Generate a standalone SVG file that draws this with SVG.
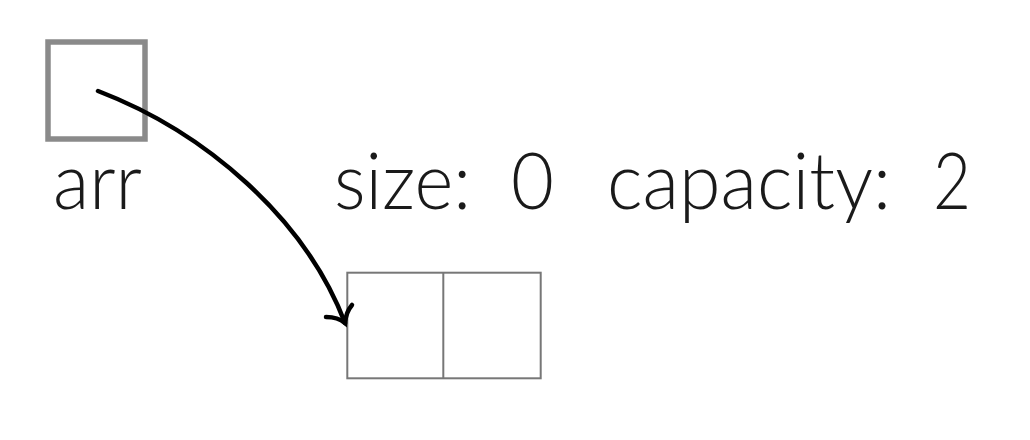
<svg xmlns="http://www.w3.org/2000/svg" width="1030" height="440" viewBox="0 0 1030 440">
<style>
.lbl{font-family:"Lato","DejaVu Sans",sans-serif;font-size:78px;font-weight:300;fill:#1a1a1a}
.ptr{fill:none;stroke:#8a8a8a;stroke-width:5.5}
.cell{fill:none;stroke:#777;stroke-width:2}
.conn{fill:none;stroke:#000;stroke-width:4.5;stroke-linecap:round}
</style>
<rect width="1030" height="440" fill="#fff"/>
<g id="arr">
<rect class="ptr" x="48" y="42" width="97" height="97"/>
<text class="lbl" x="53" y="209" textLength="89" lengthAdjust="spacingAndGlyphs">arr</text>
</g>
<g id="size">
<text class="lbl" x="334" y="209" textLength="137" lengthAdjust="spacingAndGlyphs">size:</text>
<text class="lbl" x="511" y="209" textLength="43" lengthAdjust="spacingAndGlyphs">0</text>
</g>
<g id="capacity">
<text class="lbl" x="607" y="209" textLength="284" lengthAdjust="spacingAndGlyphs">capacity:</text>
<text class="lbl" x="933" y="209" textLength="38" lengthAdjust="spacingAndGlyphs">2</text>
</g>
<g id="array">
<rect class="cell" x="347.3" y="272.7" width="193.4" height="105.6"/>
<line class="cell" x1="443.3" y1="272.7" x2="443.3" y2="378.3"/>
</g>
<g id="connectors">
<path class="conn" d="M98,91 C205,132 305,218 345,323"/>
<path class="conn" d="M326,317 Q338,317 345,323 Q346,312 352,305"/>
</g>
</svg>
